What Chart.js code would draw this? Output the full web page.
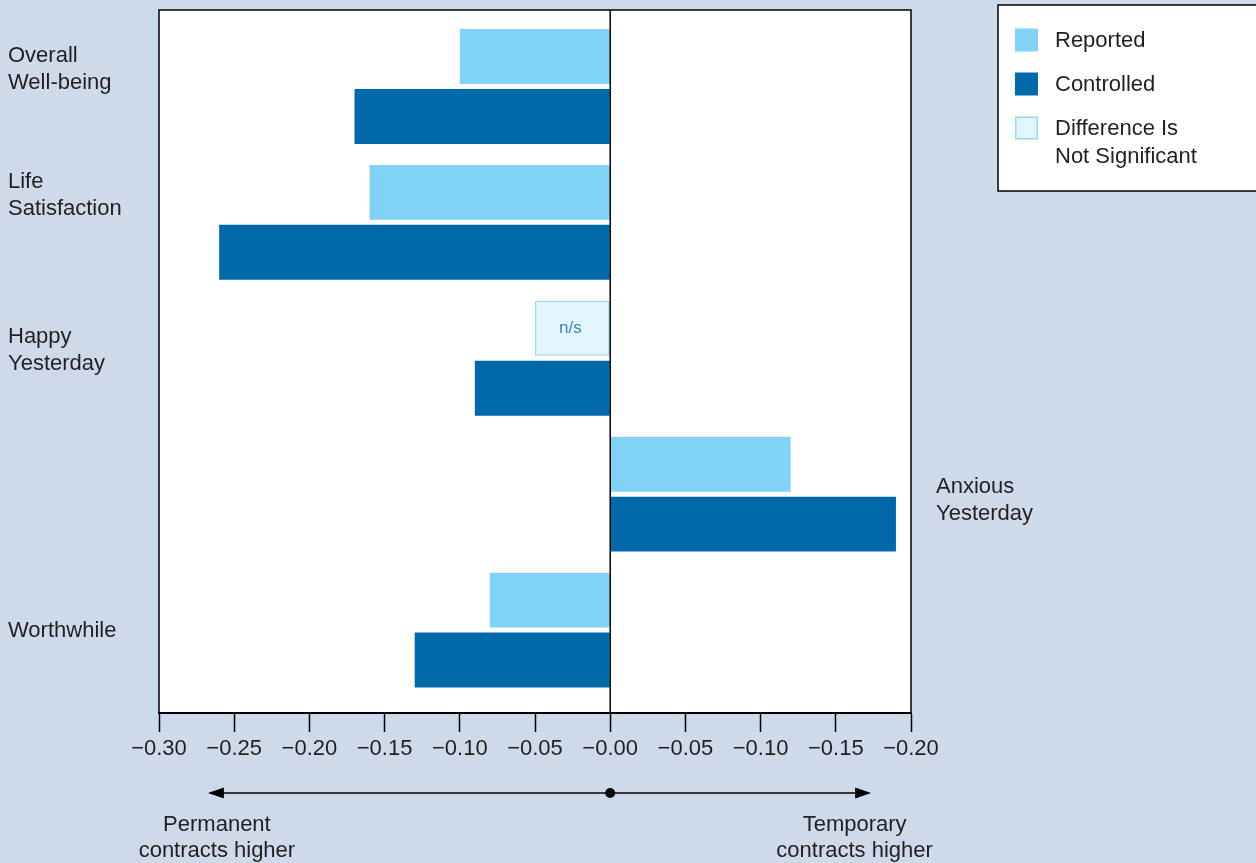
<!DOCTYPE html>
<html><head><meta charset="utf-8">
<script src="https://cdn.jsdelivr.net/npm/chart.js@4/dist/chart.umd.min.js"></script>
<style>
html,body{margin:0;padding:0;background:#CED9EA;overflow:hidden;}
#wrap{width:1256px;height:863px;position:relative;}
</style>
</head><body><div id="wrap"><canvas id="c"></canvas></div>
<script>
// ---- data ----
const categories = [['Overall','Well-being'], ['Life','Satisfaction'], ['Happy','Yesterday'], ['Anxious','Yesterday'], ['Worthwhile']];
const seriesNames = ['Reported', 'Controlled'];
const reported   = [-0.10, -0.16, -0.05, 0.12, -0.08];
const controlled = [-0.17, -0.26, -0.09, 0.19, -0.13];
const significant = [true, true, false, true, true];
const xTickValues = [-0.30, -0.25, -0.20, -0.15, -0.10, -0.05, 0, 0.05, 0.10, 0.15, 0.20];
const xTickLabels = ['\u22120.30','\u22120.25','\u22120.20','\u22120.15','\u22120.10','\u22120.05','\u22120.00','\u22120.05','\u22120.10','\u22120.15','\u22120.20'];
const legendLabels = [['Reported'], ['Controlled'], ['Difference Is', 'Not Significant']];
const nsLabel = 'n/s';
const leftNote = ['Permanent', 'contracts higher'];
const rightNote = ['Temporary', 'contracts higher'];

// ---- styles ----
const C_REP = '#80D3F6', C_CTRL = '#0069AA', C_NS = '#E2F4FC', C_NS_BORDER = '#9CD7F2', C_TEXT = '#231F20';
const FONT = "'Liberation Sans', Arial, sans-serif";
Chart.defaults.font.family = FONT;
Chart.defaults.color = C_TEXT;

const idx = categories.map((_, i) => i);

const decor = {
  id: 'decor',
  beforeDraw(chart) {
    const {ctx, chartArea: a} = chart;
    ctx.save();
    ctx.fillStyle = '#ffffff';
    ctx.fillRect(a.left, a.top, a.right - a.left, a.bottom - a.top);
    ctx.restore();
  },
  afterDatasetsDraw(chart, args, o) {
    const {ctx, chartArea: a, scales: {x, y}} = chart;
    ctx.save();
    // frame
    ctx.strokeStyle = '#000'; ctx.lineWidth = 1.5;
    ctx.strokeRect(a.left, a.top, a.right - a.left, a.bottom - a.top);
    // zero line
    const x0 = x.getPixelForValue(0);
    ctx.beginPath(); ctx.moveTo(x0, a.top); ctx.lineTo(x0, a.bottom); ctx.stroke();
    // n/s labels
    const meta = chart.getDatasetMeta(0);
    ctx.fillStyle = '#3B87C2'; ctx.font = '17px ' + FONT;
    ctx.textAlign = 'center'; ctx.textBaseline = 'middle';
    meta.data.forEach((el, i) => {
      if (!significant[i]) ctx.fillText(nsLabel, (el.x + el.base) / 2 - 2, el.y);
    });
    // category labels
    ctx.fillStyle = C_TEXT; ctx.font = '22px ' + FONT; ctx.textBaseline = 'middle';
    categories.forEach((lines, i) => {
      const right = reported[i] > 0 && controlled[i] > 0;
      const cy = y.getPixelForValue(i) + o.labelShift[i];
      const lx = right ? a.right + 25 : 8;
      ctx.textAlign = 'left';
      lines.forEach((t, k) => {
        ctx.fillText(t, lx, cy + (k - (lines.length - 1) / 2) * o.lineH);
      });
    });
    ctx.restore();
  },
  afterDraw(chart, args, o) {
    const {ctx, scales: {x}} = chart;
    ctx.save();
    // arrow
    const ay = o.arrowY;
    const xl = x.getPixelForValue(o.arrowFrom), xr = x.getPixelForValue(o.arrowTo), x0 = x.getPixelForValue(0);
    ctx.strokeStyle = '#000'; ctx.fillStyle = '#000'; ctx.lineWidth = 1.5;
    ctx.beginPath(); ctx.moveTo(xl + 10, ay); ctx.lineTo(xr - 10, ay); ctx.stroke();
    ctx.beginPath(); ctx.moveTo(xl, ay); ctx.lineTo(xl + 16, ay - 5.5); ctx.lineTo(xl + 16, ay + 5.5); ctx.closePath(); ctx.fill();
    ctx.beginPath(); ctx.moveTo(xr, ay); ctx.lineTo(xr - 16, ay - 5.5); ctx.lineTo(xr - 16, ay + 5.5); ctx.closePath(); ctx.fill();
    ctx.beginPath(); ctx.arc(x0, ay, 5, 0, Math.PI * 2); ctx.fill();
    // notes
    ctx.fillStyle = C_TEXT; ctx.font = '22px ' + FONT; ctx.textAlign = 'center'; ctx.textBaseline = 'middle';
    const lx = x.getPixelForValue(o.leftNoteAt), rx = x.getPixelForValue(o.rightNoteAt);
    leftNote.forEach((t, k) => ctx.fillText(t, lx, o.noteY + k * o.noteLineH));
    rightNote.forEach((t, k) => ctx.fillText(t, rx, o.noteY + k * o.noteLineH));
    // legend
    const L = o.legend;
    ctx.fillStyle = '#fff'; ctx.fillRect(L.x, L.y, L.w, L.h);
    ctx.strokeStyle = '#000'; ctx.lineWidth = 1.5; ctx.strokeRect(L.x, L.y, L.w, L.h);
    const fills = [C_REP, C_CTRL, C_NS];
    legendLabels.forEach((lines, i) => {
      const sy = L.y + L.first + i * L.step;
      ctx.fillStyle = fills[i];
      ctx.fillRect(L.x + 17, sy - 11.5, 23, 23);
      if (i === 2) { ctx.strokeStyle = C_NS_BORDER; ctx.lineWidth = 1.5; ctx.strokeRect(L.x + 17.75, sy - 10.75, 21.5, 21.5); }
      ctx.fillStyle = C_TEXT; ctx.textAlign = 'left'; ctx.textBaseline = 'middle';
      lines.forEach((t, k) => ctx.fillText(t, L.x + 57, sy + 1 + k * 28));
    });
    ctx.restore();
  }
};

new Chart(document.getElementById('c'), {
  type: 'bar',
  data: {
    datasets: [
      {
        label: seriesNames[0],
        data: idx.map(i => ({x: reported[i], y: i})),
        backgroundColor: significant.map(s => s ? C_REP : C_NS),
        borderColor: C_NS_BORDER,
        borderWidth: significant.map(s => s ? 0 : 1.5),
        borderSkipped: false
      },
      {
        label: seriesNames[1],
        data: idx.map(i => ({x: controlled[i], y: i})),
        backgroundColor: C_CTRL,
        borderWidth: 0
      }
    ]
  },
  options: {
    indexAxis: 'y',
    responsive: true,
    maintainAspectRatio: false,
    animation: false,
    categoryPercentage: 0.882,
    barPercentage: 0.9167,
    layout: {padding: {left: 159, right: 345, top: 10, bottom: 0}},
    plugins: {
      legend: {display: false},
      tooltip: {enabled: false},
      decor: {
        labelShift: [-17, -27, -7.5, 6, 0.5],
        lineH: 27,
        arrowY: 793, arrowFrom: -0.2675, arrowTo: 0.1735,
        leftNoteAt: -0.2615, rightNoteAt: 0.1625, noteY: 825, noteLineH: 26,
        legend: {x: 998, y: 5, w: 270, h: 186, first: 35, step: 44}
      }
    },
    scales: {
      x: {
        type: 'linear',
        min: -0.30, max: 0.20,
        afterBuildTicks: s => { s.ticks = xTickValues.map(v => ({value: v})); },
        afterFit: s => { s.height = 150; },
        ticks: {
          callback: (v, i) => xTickLabels[i],
          font: {size: 22}, color: C_TEXT, padding: 4, maxRotation: 0, autoSkip: false
        },
        grid: {drawOnChartArea: false, drawTicks: true, tickLength: 19, tickColor: '#000', tickWidth: 1.5, color: '#000'},
        border: {display: true, color: '#000', width: 2}
      },
      y: {
        type: 'linear',
        display: false,
        offset: false,
        grid: {offset: false},
        reverse: true,
        min: -0.5625, max: 4.61,
        afterBuildTicks: s => { s.ticks = idx.map(v => ({value: v})); }
      }
    }
  },
  plugins: [decor]
});
</script>
</body></html>
